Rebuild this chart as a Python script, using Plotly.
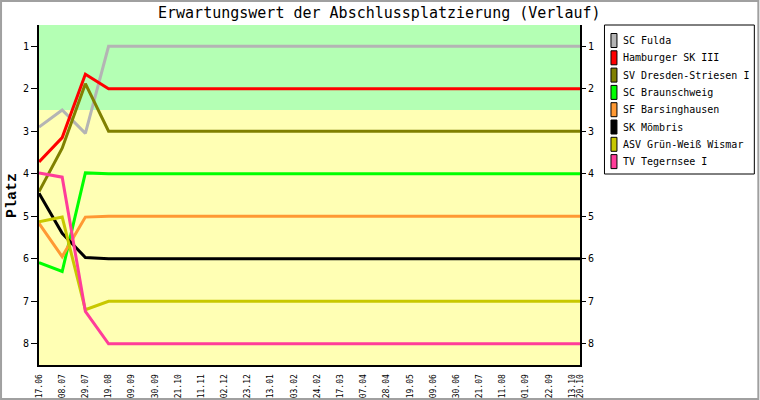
import plotly.graph_objects as go

# ---- data ----
title = "Erwartungswert der Abschlussplatzierung (Verlauf)"
teams = ["SC Fulda", "Hamburger SK III", "SV Dresden-Striesen I", "SC Braunschweig",
         "SF Barsinghausen", "SK Mömbris", "ASV Grün-Weiß Wismar", "TV Tegernsee I"]
colors = ["#b4b4b4", "#ff0000", "#808000", "#00ff00", "#ff9933", "#000000", "#c8c800", "#ff3d99"]
# days since 17.06
days = [0, 21, 42, 63, 490]
values = {
    "SC Fulda":              [2.90, 2.50, 3.05, 1.00, 1.00],
    "Hamburger SK III":      [3.72, 3.15, 1.66, 2.00, 2.00],
    "SV Dresden-Striesen I": [4.42, 3.40, 1.88, 3.00, 3.00],
    "SC Braunschweig":       [6.09, 6.30, 3.98, 4.00, 4.00],
    "SF Barsinghausen":      [5.17, 5.95, 5.02, 5.00, 5.00],
    "SK Mömbris":            [4.46, 5.40, 5.97, 6.00, 6.00],
    "ASV Grün-Weiß Wismar":  [5.13, 5.02, 7.20, 7.00, 7.00],
    "TV Tegernsee I":        [3.98, 4.08, 7.24, 8.00, 8.00],
}
tick_days = [0, 21, 42, 63, 84, 105, 126, 147, 168, 189, 210, 231, 252, 273, 294,
             315, 336, 357, 378, 399, 420, 441, 462, 483, 490]
tick_labels = ["17.06", "08.07", "29.07", "19.08", "09.09", "30.09", "21.10", "11.11",
               "02.12", "23.12", "13.01", "03.02", "24.02", "17.03", "07.04", "28.04",
               "19.05", "09.06", "30.06", "21.07", "11.08", "01.09", "22.09", "13.10", "20.10"]
y_ticks = [1, 2, 3, 4, 5, 6, 7, 8]
green_zone = [0.5, 2.5]
yellow_zone = [2.5, 8.5]

# ---- layout geometry (pixels) ----
W, H = 760, 400
L, R, T, B = 39, 580.5, 25, 365
def px(x):
    return (x - L) / (R - L)
def py(y):
    return (B - y) / (B - T)

FONT = "DejaVu Sans Mono"
fig = go.Figure()
for name, col in zip(teams, colors):
    fig.add_trace(go.Scatter(x=days, y=values[name], mode="lines", name=name,
                             line=dict(color=col, width=3), showlegend=False, yaxis="y"))
# transparent copy so that the right-hand axis is drawn
fig.add_trace(go.Scatter(x=days, y=values[teams[0]], mode="lines", yaxis="y2",
                         line=dict(color="rgba(0,0,0,0)", width=0), hoverinfo="skip",
                         showlegend=False))

shapes = [
    dict(type="rect", xref="paper", yref="y", x0=0, x1=1, y0=green_zone[0], y1=green_zone[1],
         fillcolor="#b4ffb4", line=dict(width=0), layer="below"),
    dict(type="rect", xref="paper", yref="y", x0=0, x1=1, y0=yellow_zone[0], y1=yellow_zone[1],
         fillcolor="#ffffb4", line=dict(width=0), layer="below"),
    # outer grey frame
    dict(type="rect", xref="paper", yref="paper", x0=px(1), x1=px(W - 1), y0=py(H - 1), y1=py(1),
         line=dict(color="#a0a0a0", width=2), fillcolor="rgba(0,0,0,0)"),
    # legend box
    dict(type="rect", xref="paper", yref="paper", x0=px(605), x1=px(755), y0=py(174), y1=py(25),
         line=dict(color="#000000", width=1), fillcolor="#ffffff"),
]
annotations = []
row_h = 17.3
for i, (name, col) in enumerate(zip(teams, colors)):
    cy = 40.5 + i * row_h
    shapes.append(dict(type="rect", xref="paper", yref="paper", x0=px(611.5), x1=px(617.5),
                       y0=py(cy + 7), y1=py(cy - 7), fillcolor=col,
                       line=dict(color="#000000", width=1)))
    annotations.append(dict(xref="paper", yref="paper", x=px(622), y=py(cy), text=name,
                            showarrow=False, xanchor="left", yanchor="middle",
                            font=dict(family=FONT, size=10, color="#000000")))

annotations.append(dict(xref="paper", yref="paper", x=px(380), y=py(13), text=title,
                        showarrow=False, xanchor="center", yanchor="middle",
                        font=dict(family=FONT, size=15, color="#000000")))
annotations.append(dict(xref="paper", yref="paper", x=px(12), y=py(196), text="<b>Platz</b>",
                        textangle=-90, showarrow=False, xanchor="center", yanchor="middle",
                        font=dict(family="Liberation Mono", size=15, color="#000000")))

fig.update_layout(
    width=W, height=H,
    margin=dict(l=L, r=W - R, t=T, b=H - B, pad=0, autoexpand=False),
    paper_bgcolor="#ffffff", plot_bgcolor="#ffffff",
    showlegend=False,
    shapes=shapes, annotations=annotations,
    xaxis=dict(range=[0, 490], tickvals=tick_days, ticktext=tick_labels, tickangle=-90,
               showline=True, linecolor="#000000", linewidth=2, showgrid=False, zeroline=False,
               ticks="", ticklabelstandoff=4,
               tickfont=dict(family=FONT, size=8, color="#000000"), automargin=False),
    yaxis=dict(range=[8.5, 0.5], tickvals=y_ticks, showline=True, linecolor="#000000",
               linewidth=2, showgrid=False, zeroline=False, ticks="outside", ticklen=6,
               tickcolor="#000000", tickfont=dict(family=FONT, size=10, color="#000000"),
               automargin=False),
    yaxis2=dict(range=[8.5, 0.5], tickvals=y_ticks, overlaying="y", side="right",
                showline=True, linecolor="#000000", linewidth=2, showgrid=False, zeroline=False,
                ticks="outside", ticklen=4, tickcolor="#000000",
                tickfont=dict(family=FONT, size=10, color="#000000"), automargin=False),
)
fig.write_html("out.html", config={"displayModeBar": False},
               post_script="document.body.style.margin='0';")
